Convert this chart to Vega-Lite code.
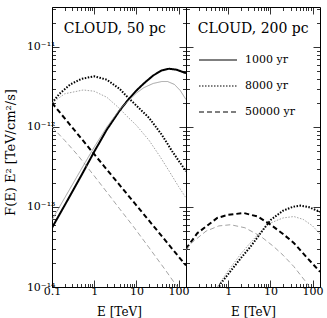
{
  "$schema": "https://vega.github.io/schema/vega-lite/v6.json",
  "padding": {"left": 3, "top": 2, "right": 5, "bottom": 0},
  "spacing": 0,
  "bounds": "flush",
  "background": "white",
  "config": {
    "view": {"stroke": "black", "strokeWidth": 1},
    "font": "DejaVu Serif",
    "axis": {
      "labelFont": "DejaVu Serif", "labelFontSize": 11, "labelColor": "black",
      "titleFont": "DejaVu Serif", "titleFontWeight": "normal", "titleColor": "black",
      "tickColor": "black", "tickWidth": 0.8, "grid": false, "domain": false,
      "labelFlush": false, "labelOverlap": false, "labelBound": false
    }
  },
  "datasets": {
    "p50": [
      {"age": "1000 yr", "kind": "thick", "E": 0.1, "F": 5.5e-14},
      {"age": "1000 yr", "kind": "thick", "E": 0.2, "F": 1.05e-13},
      {"age": "1000 yr", "kind": "thick", "E": 0.5, "F": 2.5e-13},
      {"age": "1000 yr", "kind": "thick", "E": 1, "F": 4.9e-13},
      {"age": "1000 yr", "kind": "thick", "E": 2, "F": 9.3e-13},
      {"age": "1000 yr", "kind": "thick", "E": 4, "F": 1.6e-12},
      {"age": "1000 yr", "kind": "thick", "E": 6, "F": 2.1e-12},
      {"age": "1000 yr", "kind": "thick", "E": 10, "F": 2.85e-12},
      {"age": "1000 yr", "kind": "thick", "E": 15, "F": 3.5e-12},
      {"age": "1000 yr", "kind": "thick", "E": 25, "F": 4.4e-12},
      {"age": "1000 yr", "kind": "thick", "E": 40, "F": 5.1e-12},
      {"age": "1000 yr", "kind": "thick", "E": 60, "F": 5.35e-12},
      {"age": "1000 yr", "kind": "thick", "E": 90, "F": 5.2e-12},
      {"age": "1000 yr", "kind": "thick", "E": 150, "F": 4.7e-12},
      {"age": "1000 yr", "kind": "thin", "E": 0.1, "F": 6.9e-14},
      {"age": "1000 yr", "kind": "thin", "E": 0.2, "F": 1.3e-13},
      {"age": "1000 yr", "kind": "thin", "E": 0.5, "F": 3.0e-13},
      {"age": "1000 yr", "kind": "thin", "E": 1, "F": 5.6e-13},
      {"age": "1000 yr", "kind": "thin", "E": 2, "F": 1.0e-12},
      {"age": "1000 yr", "kind": "thin", "E": 4, "F": 1.65e-12},
      {"age": "1000 yr", "kind": "thin", "E": 6, "F": 2.05e-12},
      {"age": "1000 yr", "kind": "thin", "E": 10, "F": 2.65e-12},
      {"age": "1000 yr", "kind": "thin", "E": 15, "F": 3.1e-12},
      {"age": "1000 yr", "kind": "thin", "E": 25, "F": 3.5e-12},
      {"age": "1000 yr", "kind": "thin", "E": 40, "F": 3.7e-12},
      {"age": "1000 yr", "kind": "thin", "E": 55, "F": 3.7e-12},
      {"age": "1000 yr", "kind": "thin", "E": 80, "F": 3.4e-12},
      {"age": "1000 yr", "kind": "thin", "E": 110, "F": 2.85e-12},
      {"age": "1000 yr", "kind": "thin", "E": 150, "F": 2.2e-12},
      {"age": "8000 yr", "kind": "thick", "E": 0.1, "F": 2.0e-12},
      {"age": "8000 yr", "kind": "thick", "E": 0.15, "F": 2.6e-12},
      {"age": "8000 yr", "kind": "thick", "E": 0.27, "F": 3.4e-12},
      {"age": "8000 yr", "kind": "thick", "E": 0.5, "F": 4.0e-12},
      {"age": "8000 yr", "kind": "thick", "E": 1, "F": 4.3e-12},
      {"age": "8000 yr", "kind": "thick", "E": 2, "F": 3.9e-12},
      {"age": "8000 yr", "kind": "thick", "E": 4, "F": 3.0e-12},
      {"age": "8000 yr", "kind": "thick", "E": 6, "F": 2.4e-12},
      {"age": "8000 yr", "kind": "thick", "E": 10, "F": 1.85e-12},
      {"age": "8000 yr", "kind": "thick", "E": 20, "F": 1.3e-12},
      {"age": "8000 yr", "kind": "thick", "E": 40, "F": 8.0e-13},
      {"age": "8000 yr", "kind": "thick", "E": 70, "F": 5.0e-13},
      {"age": "8000 yr", "kind": "thick", "E": 100, "F": 3.8e-13},
      {"age": "8000 yr", "kind": "thick", "E": 150, "F": 2.8e-13},
      {"age": "8000 yr", "kind": "thin", "E": 0.1, "F": 2.0e-12},
      {"age": "8000 yr", "kind": "thin", "E": 0.2, "F": 2.6e-12},
      {"age": "8000 yr", "kind": "thin", "E": 0.55, "F": 2.9e-12},
      {"age": "8000 yr", "kind": "thin", "E": 1, "F": 2.8e-12},
      {"age": "8000 yr", "kind": "thin", "E": 2, "F": 2.35e-12},
      {"age": "8000 yr", "kind": "thin", "E": 4, "F": 1.7e-12},
      {"age": "8000 yr", "kind": "thin", "E": 6, "F": 1.36e-12},
      {"age": "8000 yr", "kind": "thin", "E": 10, "F": 1.05e-12},
      {"age": "8000 yr", "kind": "thin", "E": 20, "F": 6.8e-13},
      {"age": "8000 yr", "kind": "thin", "E": 36, "F": 4.3e-13},
      {"age": "8000 yr", "kind": "thin", "E": 60, "F": 2.8e-13},
      {"age": "8000 yr", "kind": "thin", "E": 100, "F": 1.8e-13},
      {"age": "8000 yr", "kind": "thin", "E": 150, "F": 1.3e-13},
      {"age": "50000 yr", "kind": "thick", "E": 0.1, "F": 2.0e-12},
      {"age": "50000 yr", "kind": "thick", "E": 0.3, "F": 9.9e-13},
      {"age": "50000 yr", "kind": "thick", "E": 1, "F": 4.57e-13},
      {"age": "50000 yr", "kind": "thick", "E": 3, "F": 2.26e-13},
      {"age": "50000 yr", "kind": "thick", "E": 10, "F": 1.05e-13},
      {"age": "50000 yr", "kind": "thick", "E": 30, "F": 5.2e-14},
      {"age": "50000 yr", "kind": "thick", "E": 100, "F": 2.4e-14},
      {"age": "50000 yr", "kind": "thick", "E": 150, "F": 1.86e-14},
      {"age": "50000 yr", "kind": "thin", "E": 0.1, "F": 1.0e-12},
      {"age": "50000 yr", "kind": "thin", "E": 0.2, "F": 6.8e-13},
      {"age": "50000 yr", "kind": "thin", "E": 0.4, "F": 4.5e-13},
      {"age": "50000 yr", "kind": "thin", "E": 1, "F": 2.45e-13},
      {"age": "50000 yr", "kind": "thin", "E": 2, "F": 1.53e-13},
      {"age": "50000 yr", "kind": "thin", "E": 4, "F": 9.5e-14},
      {"age": "50000 yr", "kind": "thin", "E": 8.5, "F": 5.7e-14},
      {"age": "50000 yr", "kind": "thin", "E": 20, "F": 3.1e-14},
      {"age": "50000 yr", "kind": "thin", "E": 50, "F": 1.6e-14},
      {"age": "50000 yr", "kind": "thin", "E": 100, "F": 9.5e-15},
      {"age": "50000 yr", "kind": "thin", "E": 150, "F": 7.0e-15}
    ],
    "p200": [
      {"age": "8000 yr", "kind": "thick", "E": 0.5, "F": 8.0e-15},
      {"age": "8000 yr", "kind": "thick", "E": 0.66, "F": 1.1e-14},
      {"age": "8000 yr", "kind": "thick", "E": 1, "F": 1.45e-14},
      {"age": "8000 yr", "kind": "thick", "E": 2, "F": 2.3e-14},
      {"age": "8000 yr", "kind": "thick", "E": 3.4, "F": 3.2e-14},
      {"age": "8000 yr", "kind": "thick", "E": 6, "F": 4.8e-14},
      {"age": "8000 yr", "kind": "thick", "E": 10.2, "F": 6.9e-14},
      {"age": "8000 yr", "kind": "thick", "E": 20, "F": 9.0e-14},
      {"age": "8000 yr", "kind": "thick", "E": 35, "F": 1.01e-13},
      {"age": "8000 yr", "kind": "thick", "E": 52, "F": 1.04e-13},
      {"age": "8000 yr", "kind": "thick", "E": 80, "F": 1.0e-13},
      {"age": "8000 yr", "kind": "thick", "E": 150, "F": 8.7e-14},
      {"age": "8000 yr", "kind": "thin", "E": 0.45, "F": 8.0e-15},
      {"age": "8000 yr", "kind": "thin", "E": 0.55, "F": 1.0e-14},
      {"age": "8000 yr", "kind": "thin", "E": 1, "F": 1.6e-14},
      {"age": "8000 yr", "kind": "thin", "E": 2, "F": 2.6e-14},
      {"age": "8000 yr", "kind": "thin", "E": 3.4, "F": 3.6e-14},
      {"age": "8000 yr", "kind": "thin", "E": 6, "F": 5.0e-14},
      {"age": "8000 yr", "kind": "thin", "E": 10, "F": 6.3e-14},
      {"age": "8000 yr", "kind": "thin", "E": 20, "F": 7.3e-14},
      {"age": "8000 yr", "kind": "thin", "E": 36, "F": 7.6e-14},
      {"age": "8000 yr", "kind": "thin", "E": 60, "F": 7.0e-14},
      {"age": "8000 yr", "kind": "thin", "E": 100, "F": 5.8e-14},
      {"age": "8000 yr", "kind": "thin", "E": 150, "F": 4.6e-14},
      {"age": "50000 yr", "kind": "thick", "E": 0.1, "F": 3.0e-14},
      {"age": "50000 yr", "kind": "thick", "E": 0.185, "F": 4.7e-14},
      {"age": "50000 yr", "kind": "thick", "E": 0.55, "F": 7.3e-14},
      {"age": "50000 yr", "kind": "thick", "E": 1, "F": 8.0e-14},
      {"age": "50000 yr", "kind": "thick", "E": 2.37, "F": 8.4e-14},
      {"age": "50000 yr", "kind": "thick", "E": 5, "F": 7.6e-14},
      {"age": "50000 yr", "kind": "thick", "E": 10.2, "F": 6.0e-14},
      {"age": "50000 yr", "kind": "thick", "E": 20, "F": 4.6e-14},
      {"age": "50000 yr", "kind": "thick", "E": 36, "F": 3.55e-14},
      {"age": "50000 yr", "kind": "thick", "E": 70, "F": 2.4e-14},
      {"age": "50000 yr", "kind": "thick", "E": 150, "F": 1.55e-14},
      {"age": "50000 yr", "kind": "thin", "E": 0.1, "F": 2.9e-14},
      {"age": "50000 yr", "kind": "thin", "E": 0.13, "F": 3.5e-14},
      {"age": "50000 yr", "kind": "thin", "E": 0.3, "F": 5.0e-14},
      {"age": "50000 yr", "kind": "thin", "E": 0.6, "F": 5.8e-14},
      {"age": "50000 yr", "kind": "thin", "E": 1.14, "F": 6.0e-14},
      {"age": "50000 yr", "kind": "thin", "E": 2.5, "F": 5.5e-14},
      {"age": "50000 yr", "kind": "thin", "E": 5.9, "F": 4.3e-14},
      {"age": "50000 yr", "kind": "thin", "E": 12, "F": 3.2e-14},
      {"age": "50000 yr", "kind": "thin", "E": 20, "F": 2.5e-14},
      {"age": "50000 yr", "kind": "thin", "E": 36, "F": 1.8e-14},
      {"age": "50000 yr", "kind": "thin", "E": 75, "F": 1.1e-14},
      {"age": "50000 yr", "kind": "thin", "E": 100, "F": 8.5e-15}
    ]
  },
  "resolve": {
    "scale": {"color": "independent", "strokeDash": "independent", "strokeWidth": "independent"},
    "legend": {"color": "independent", "strokeDash": "independent", "strokeWidth": "independent"}
  },
  "hconcat": [
    {
      "width": 134, "height": 280,
      "layer": [
        {
          "data": {"name": "p50"},
          "mark": {"type": "line", "clip": true, "strokeCap": "butt"},
          "encoding": {
            "x": {"field": "E", "type": "quantitative",
              "scale": {"type": "log", "domain": [0.1, 150], "nice": false},
              "axis": {"orient": "bottom", "title": "E [TeV]", "titleFontSize": 12,
                "values": [0.1,0.2,0.3,0.4,0.5,0.6,0.7,0.8,0.9,1,2,3,4,5,6,7,8,9,10,20,30,40,50,60,70,80,90,100],
                "labelExpr": "datum.value == 0.1 ? '0.1' : datum.value == 1 ? '1' : datum.value == 10 ? '10' : datum.value == 100 ? '100' : ''",
                "tickSize": {"condition": {"test": "datum.value == 0.1 || datum.value == 1 || datum.value == 10 || datum.value == 100", "value": -7}, "value": -3.5},
                "labelPadding": 5, "labelBaseline": "top", "titleY": 28, "titleBaseline": "alphabetic"}},
            "y": {"field": "F", "type": "quantitative",
              "scale": {"type": "log", "domain": [1e-14, 3.16e-11], "nice": false},
              "axis": {"orient": "left", "title": "F(E) E² [TeV/cm²/s]", "titleFontSize": 13,
                "titleX": -42, "titleY": 145, "titleAngle": -90, "titleAlign": "center", "titleBaseline": "middle",
                "values": [1e-14,2e-14,3e-14,4e-14,5e-14,6e-14,7e-14,8e-14,9e-14,1e-13,2e-13,3e-13,4e-13,5e-13,6e-13,7e-13,8e-13,9e-13,1e-12,2e-12,3e-12,4e-12,5e-12,6e-12,7e-12,8e-12,9e-12,1e-11,2e-11,3e-11],
                "labelExpr": "datum.value == 1e-11 ? '10⁻¹¹' : datum.value == 1e-12 ? '10⁻¹²' : datum.value == 1e-13 ? '10⁻¹³' : datum.value == 1e-14 ? '10⁻¹⁴' : ''",
                "tickSize": {"condition": {"test": "datum.value == 1e-14 || datum.value == 1e-13 || datum.value == 1e-12 || datum.value == 1e-11", "value": -7}, "value": -3.5},
                "labelPadding": 4}},
            "strokeDash": {"field": "age", "type": "nominal",
              "scale": {"domain": ["1000 yr", "8000 yr", "50000 yr"], "range": [[1, 0], [1.5, 1.5], [5, 3]]}, "legend": null},
            "color": {"field": "kind", "type": "nominal",
              "scale": {"domain": ["thick", "thin"], "range": ["#000000", "#8c8c8c"]}, "legend": null},
            "strokeWidth": {"field": "kind", "type": "nominal",
              "scale": {"domain": ["thick", "thin"], "range": [2, 0.8]}, "legend": null}
          }
        },
        {
          "data": {"values": [{"label": "CLOUD, 50 pc", "E": 0.19, "F": 1.5e-11}]},
          "mark": {"type": "text", "align": "left", "baseline": "alphabetic", "fontSize": 14, "font": "DejaVu Serif", "color": "black"},
          "encoding": {
            "x": {"field": "E", "type": "quantitative",
              "scale": {"type": "log", "domain": [0.1, 150], "nice": false},
              "axis": {"orient": "top", "title": null, "labels": false,
                "values": [0.1,0.2,0.3,0.4,0.5,0.6,0.7,0.8,0.9,1,2,3,4,5,6,7,8,9,10,20,30,40,50,60,70,80,90,100],
                "tickSize": {"condition": {"test": "datum.value == 0.1 || datum.value == 1 || datum.value == 10 || datum.value == 100", "value": -7}, "value": -3.5}}},
            "y": {"field": "F", "type": "quantitative",
              "scale": {"type": "log", "domain": [1e-14, 3.16e-11], "nice": false},
              "axis": {"orient": "right", "title": null, "labels": false,
                "values": [1e-14,2e-14,3e-14,4e-14,5e-14,6e-14,7e-14,8e-14,9e-14,1e-13,2e-13,3e-13,4e-13,5e-13,6e-13,7e-13,8e-13,9e-13,1e-12,2e-12,3e-12,4e-12,5e-12,6e-12,7e-12,8e-12,9e-12,1e-11,2e-11,3e-11],
                "tickSize": {"condition": {"test": "datum.value == 1e-14 || datum.value == 1e-13 || datum.value == 1e-12 || datum.value == 1e-11", "value": -7}, "value": -3.5}}},
            "text": {"field": "label"}
          }
        }
      ]
    },
    {
      "width": 134, "height": 280,
      "layer": [
        {
          "data": {"name": "p200"},
          "mark": {"type": "line", "clip": true, "strokeCap": "butt"},
          "encoding": {
            "x": {"field": "E", "type": "quantitative",
              "scale": {"type": "log", "domain": [0.1, 150], "nice": false},
              "axis": {"orient": "bottom", "title": "E [TeV]", "titleFontSize": 12,
                "values": [0.1,0.2,0.3,0.4,0.5,0.6,0.7,0.8,0.9,1,2,3,4,5,6,7,8,9,10,20,30,40,50,60,70,80,90,100],
                "labelExpr": "datum.value == 1 ? '1' : datum.value == 10 ? '10' : datum.value == 100 ? '100' : ''",
                "tickSize": {"condition": {"test": "datum.value == 0.1 || datum.value == 1 || datum.value == 10 || datum.value == 100", "value": -7}, "value": -3.5},
                "labelPadding": 5, "labelBaseline": "top", "titleY": 28, "titleBaseline": "alphabetic"}},
            "y": {"field": "F", "type": "quantitative",
              "scale": {"type": "log", "domain": [1e-14, 3.16e-11], "nice": false},
              "axis": {"orient": "left", "title": null, "labels": false,
                "values": [1e-14,2e-14,3e-14,4e-14,5e-14,6e-14,7e-14,8e-14,9e-14,1e-13,2e-13,3e-13,4e-13,5e-13,6e-13,7e-13,8e-13,9e-13,1e-12,2e-12,3e-12,4e-12,5e-12,6e-12,7e-12,8e-12,9e-12,1e-11,2e-11,3e-11],
                "tickSize": {"condition": {"test": "datum.value == 1e-14 || datum.value == 1e-13 || datum.value == 1e-12 || datum.value == 1e-11", "value": -7}, "value": -3.5}}},
            "strokeDash": {"field": "age", "type": "nominal",
              "scale": {"domain": ["1000 yr", "8000 yr", "50000 yr"], "range": [[1, 0], [1.5, 1.5], [5, 3]]},
              "legend": {"orient": "none", "legendX": 12, "legendY": 33, "title": null,
                "symbolType": "stroke", "symbolSize": 1444, "symbolStrokeColor": "black", "symbolStrokeWidth": 1.2,
                "labelFont": "DejaVu Serif", "labelFontSize": 11, "labelColor": "black", "labelOffset": 7, "rowPadding": 1, "padding": 0}},
            "color": {"field": "kind", "type": "nominal",
              "scale": {"domain": ["thick", "thin"], "range": ["#000000", "#8c8c8c"]}, "legend": null},
            "strokeWidth": {"field": "kind", "type": "nominal",
              "scale": {"domain": ["thick", "thin"], "range": [2, 0.8]}, "legend": null}
          }
        },
        {
          "data": {"values": [{"label": "CLOUD, 200 pc", "E": 0.19, "F": 1.5e-11}]},
          "mark": {"type": "text", "align": "left", "baseline": "alphabetic", "fontSize": 14, "font": "DejaVu Serif", "color": "black"},
          "encoding": {
            "x": {"field": "E", "type": "quantitative",
              "scale": {"type": "log", "domain": [0.1, 150], "nice": false},
              "axis": {"orient": "top", "title": null, "labels": false,
                "values": [0.1,0.2,0.3,0.4,0.5,0.6,0.7,0.8,0.9,1,2,3,4,5,6,7,8,9,10,20,30,40,50,60,70,80,90,100],
                "tickSize": {"condition": {"test": "datum.value == 0.1 || datum.value == 1 || datum.value == 10 || datum.value == 100", "value": -7}, "value": -3.5}}},
            "y": {"field": "F", "type": "quantitative",
              "scale": {"type": "log", "domain": [1e-14, 3.16e-11], "nice": false},
              "axis": {"orient": "right", "title": null, "labels": false,
                "values": [1e-14,2e-14,3e-14,4e-14,5e-14,6e-14,7e-14,8e-14,9e-14,1e-13,2e-13,3e-13,4e-13,5e-13,6e-13,7e-13,8e-13,9e-13,1e-12,2e-12,3e-12,4e-12,5e-12,6e-12,7e-12,8e-12,9e-12,1e-11,2e-11,3e-11],
                "tickSize": {"condition": {"test": "datum.value == 1e-14 || datum.value == 1e-13 || datum.value == 1e-12 || datum.value == 1e-11", "value": -7}, "value": -3.5}}},
            "text": {"field": "label"}
          }
        }
      ]
    }
  ]
}
